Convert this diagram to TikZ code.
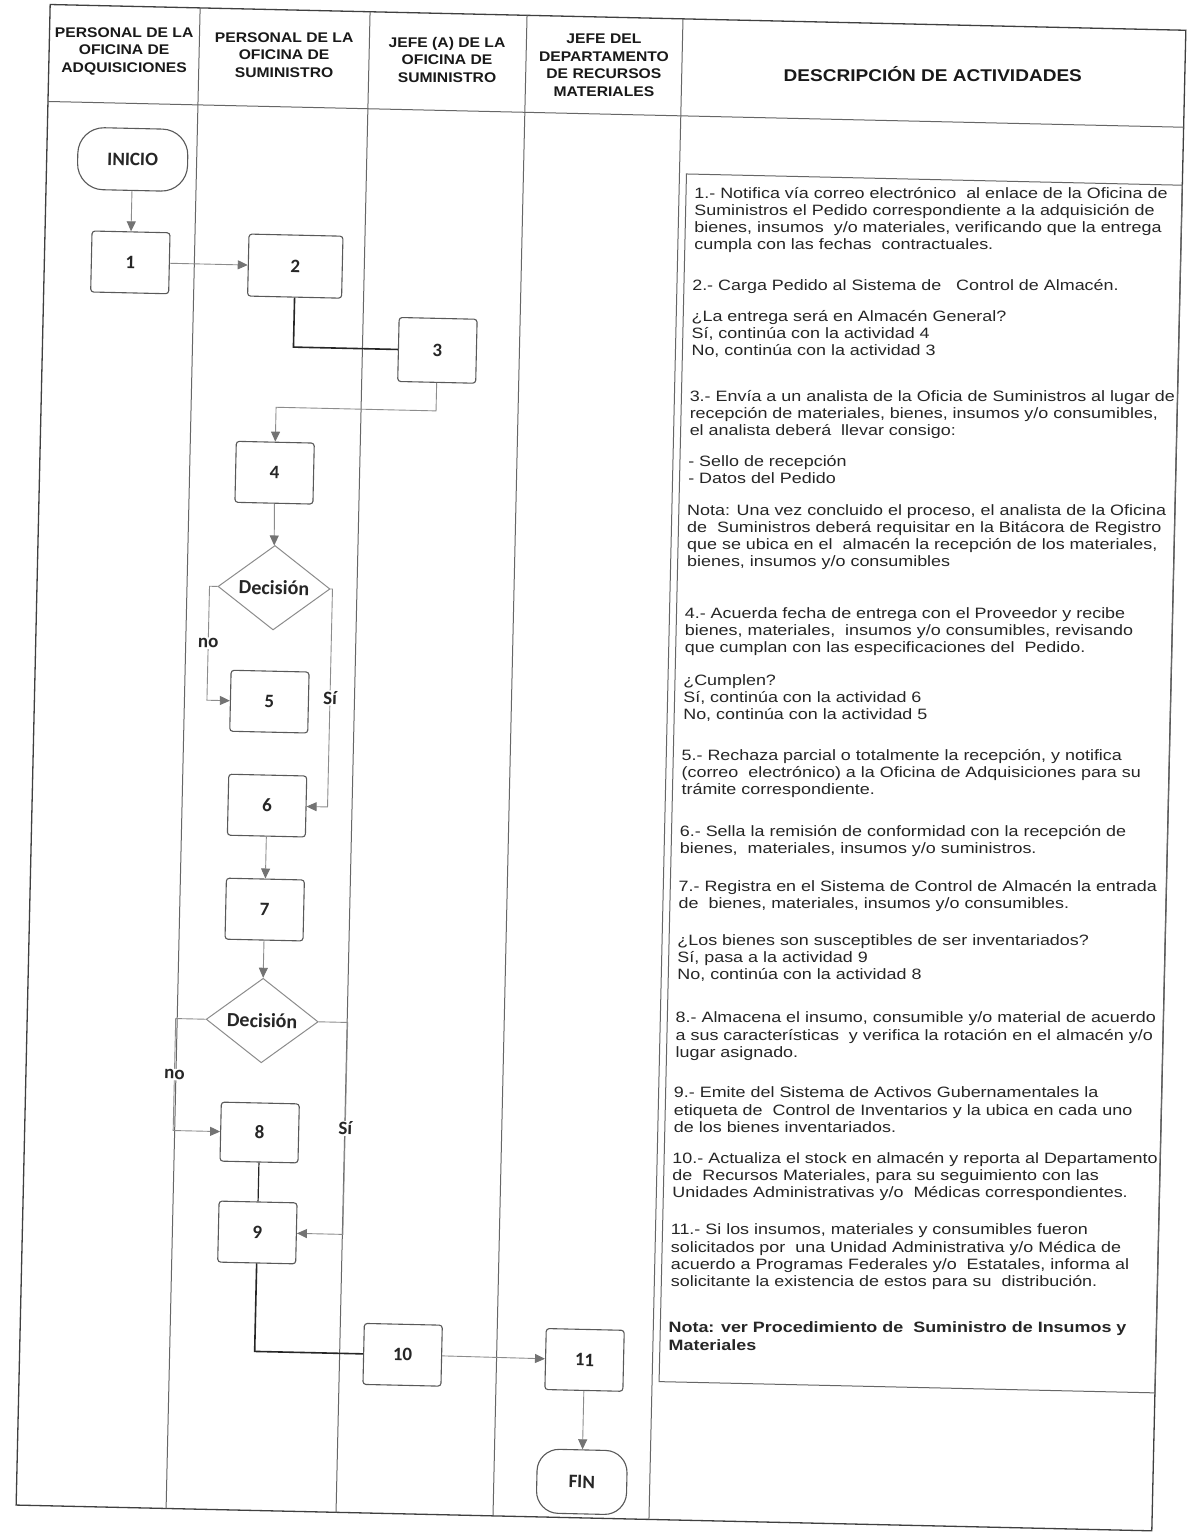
\documentclass[tikz,border=0pt]{standalone}
\usepackage{fontspec}
\setmainfont{Liberation Sans}
\newfontfamily\descfont[FakeStretch=1.195]{Liberation Sans}
\newfontfamily\headfont[FakeStretch=1.12]{Liberation Sans}
\newfontfamily\boxfont{Carlito}
\usetikzlibrary{arrows.meta,shapes.geometric}

\begin{document}
\begin{tikzpicture}[x=1pt, y=-1pt,
    lane/.style={draw=black!60, line width=1pt},
    frame/.style={draw=black!75, line width=1.3pt},
    box/.style={draw=black!65, line width=1.1pt, rounded corners=3pt, fill=white,
      minimum width=78pt, minimum height=61pt, text=black!85,
      font=\boxfont\bfseries\fontsize{19}{21}\selectfont},
    terminal/.style={box, rounded corners=26pt, minimum width=110pt, minimum height=62pt},
    decision/.style={diamond, draw=black!45, line width=1pt, fill=white, inner sep=0pt,
      minimum width=112pt, minimum height=80pt, text=black!85,
      font=\boxfont\bfseries\fontsize{20}{22}\selectfont},
    flow/.style={draw=black!45, line width=0.9pt, -{Triangle[length=10pt,width=9pt,color=black!55]}},
    link/.style={draw=black!85, line width=1.6pt},
    lbl/.style={fill=white, inner sep=1pt, text=black!85,
      font=\boxfont\bfseries\fontsize{19}{21}\selectfont},
    hdr/.style={align=center, rotate=1.3, text=black!90,
      font=\headfont\bfseries\fontsize{14}{17.5}\selectfont},
    desc/.style={anchor=north west, inner sep=0pt, align=left, rotate=1.3, text=black!85,
      font=\descfont\fontsize{15}{17.2}\selectfont}]

\useasboundingbox (0,0) rectangle (1188,1534);
\fill[white] (0,0) rectangle (1188,1534);

\begin{scope}[rotate around={-1.3:(594,767)}, transform shape]
		%%%%% START %%%%%
		
		% frame, header and lanes
		\draw[frame] (33,17) rectangle (1169,1518);
		\draw[lane] (33,114) -- (1169,114);
		\draw[lane] (183,17) -- (183,1518);
		\draw[lane] (353,17) -- (353,1518);
		\draw[lane] (510,17) -- (510,1518);
		\draw[lane] (666,17) -- (666,1518);
		\draw[lane] (673,172) rectangle (1169,1380);
		
		\node[hdr] (h1) at (108,62) {PERSONAL DE LA\\OFICINA DE\\ADQUISICIONES};
		\node[hdr] (h2) at (268,62) {PERSONAL DE LA\\OFICINA DE\\SUMINISTRO};
		\node[hdr] (h3) at (431,63) {JEFE (A) DE LA\\OFICINA DE\\SUMINISTRO};
		\node[hdr] (h4) at (588,65) {JEFE DEL\\DEPARTAMENTO\\DE RECURSOS\\MATERIALES};
		\node[hdr, font=\headfont\bfseries\fontsize{17}{20}\selectfont] (h5) at (917,67) {DESCRIPCIÓN DE ACTIVIDADES};
		
		% flow
		\node[terminal] (inicio) at (119,170) {INICIO};
		\node[box] (b1) at (119,273) {1};
		\node[box, minimum width=94pt, minimum height=62pt] (b2) at (284,273) {2};
		\node[box, minimum height=64pt] (b3) at (428,354) {3};
		\node[box] (b4) at (268,480) {4};
		\node[decision] (d1) at (270,595) {Decisión};
		\node[box] (b5) at (268,709) {5};
		\node[box] (b6) at (268,813) {6};
		\node[box] (b7) at (268,917) {7};
		\node[decision] (d2) at (268,1028) {Decisión};
		\node[box, minimum height=59pt] (b8) at (268,1140) {8};
		\node[box] (b9) at (268,1240) {9};
		\node[box] (b10) at (416,1359) {10};
		\node[box] (b11) at (598,1360) {11};
		\node[terminal, rounded corners=22pt, minimum width=90pt, minimum height=64pt] (fin) at (598,1482) {FIN};
		
		\draw[flow] (inicio) -- (b1);
		\draw[flow] (b1) -- (b2);
		\draw[link] (b2.south) |- (b3.west);
		\draw[flow] (b3.south) -- ++(0,28) -| (b4.north);
		\draw[flow] (b4) -- (d1);
		\draw[flow] (d1.west) -- ++(-8,0) |- node[lbl, pos=0.25] (no1) {no} (b5.west);
		\draw[flow] (d1.east) -- ++(2,0) |- node[lbl, pos=0.25] (si1) {Sí} (b6.east);
		\draw[flow] (b6) -- (b7);
		\draw[flow] (b7) -- (d2);
		\draw[flow] (d2.west) -- ++(-30,0) |- node[lbl, pos=0.25] (no2) {no} (b8.west);
		\draw[flow] (d2.east) -- ++(29,0) |- node[lbl, pos=0.25] (si2) {Sí} (b9.east);
		\draw[link, line width=1.2pt] (b8) -- (b9);
		\draw[link] (b9.south) |- (b10.west);
		\draw[flow] (b10) -- (b11);
		\draw[flow] (b11) -- (fin);
		
		% activities
		\node[desc] (act1) at (681,185) {1.- Notifica vía correo electrónico~~al enlace de la Oficina de\\Suministros el Pedido correspondiente a la adquisición de\\bienes, insumos~~y/o materiales, verificando que la entrega\\cumpla con las fechas~~contractuales.};
		\node[desc] (act2) at (681,277) {2.- Carga Pedido al Sistema de~~~Control de Almacén.};
		\node[desc] (ask1) at (681,308) {¿La entrega será en Almacén General?\\Sí, continúa con la actividad 4\\No, continúa con la actividad 3};
		\node[desc] (act3) at (681,388) {3.- Envía a un analista de la Oficia de Suministros al lugar de\\recepción de materiales, bienes, insumos y/o consumibles,\\el analista deberá~~llevar consigo:};
		\node[desc] (list3) at (681,453) {- Sello de recepción\\- Datos del Pedido};
		\node[desc] (note3) at (681,502) {Nota: Una vez concluido el proceso, el analista de la Oficina\\de~~Suministros deberá requisitar en la Bitácora de Registro\\que se ubica en el~~almacén la recepción de los materiales,\\bienes, insumos y/o consumibles};
		\node[desc] (act4) at (681,605) {4.- Acuerda fecha de entrega con el Proveedor y recibe\\bienes, materiales,~~insumos y/o consumibles, revisando\\que cumplan con las especificaciones del~~Pedido.};
		\node[desc] (ask2) at (681,672) {¿Cumplen?\\Sí, continúa con la actividad 6\\No, continúa con la actividad 5};
		\node[desc] (act5) at (681,747) {5.- Rechaza parcial o totalmente la recepción, y notifica\\(correo~~electrónico) a la Oficina de Adquisiciones para su\\trámite correspondiente.};
		\node[desc] (act6) at (681,823) {6.- Sella la remisión de conformidad con la recepción de\\bienes,~~materiales, insumos y/o suministros.};
		\node[desc] (act7) at (681,878) {7.- Registra en el Sistema de Control de Almacén la entrada\\de~~bienes, materiales, insumos y/o consumibles.};
		\node[desc] (ask3) at (681,932) {¿Los bienes son susceptibles de ser inventariados?\\Sí, pasa a la actividad 9\\No, continúa con la actividad 8};
		\node[desc] (act8) at (681,1010) {8.- Almacena el insumo, consumible y/o material de acuerdo\\a sus características~~y verifica la rotación en el almacén y/o\\lugar asignado.};
		\node[desc] (act9) at (681,1085) {9.- Emite del Sistema de Activos Gubernamentales la\\etiqueta de~~Control de Inventarios y la ubica en cada uno\\de los bienes inventariados.};
		\node[desc] (act10) at (681,1150) {10.- Actualiza el stock en almacén y reporta al Departamento\\de~~Recursos Materiales, para su seguimiento con las\\Unidades Administrativas y/o~~Médicas correspondientes.};
		\node[desc] (act11) at (681,1222) {11.- Si los insumos, materiales y consumibles fueron\\solicitados por~~una Unidad Administrativa y/o Médica de\\acuerdo a Programas Federales y/o~~Estatales, informa al\\solicitante la existencia de estos para su~~distribución.};
		\node[desc, font=\descfont\bfseries\fontsize{15}{17.2}\selectfont] (note11) at (681,1320) {Nota: ver Procedimiento de~~Suministro de Insumos y\\Materiales};
		
		%%%%% END %%%%%
\end{scope}
\end{tikzpicture}
\end{document}
